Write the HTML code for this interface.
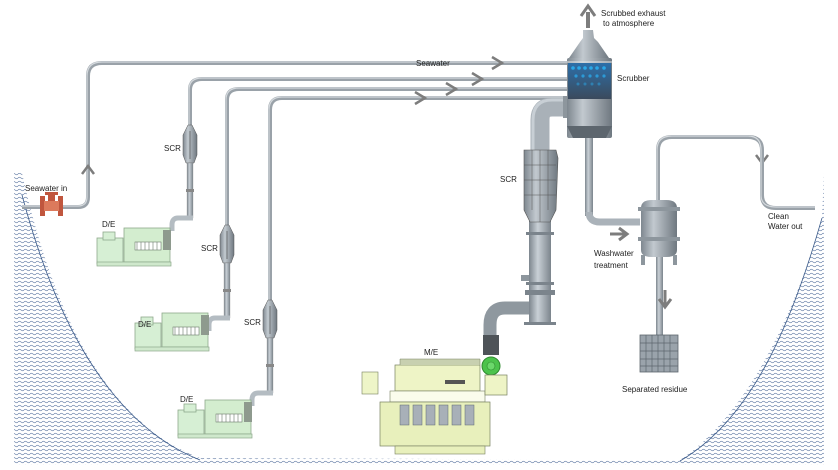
<!DOCTYPE html>
<html><head><meta charset="utf-8"><style>
html,body{margin:0;padding:0;background:#fff}
svg{display:block}
text{font-family:"Liberation Sans",sans-serif;font-size:8px;fill:#222}
</style></head><body>
<svg width="838" height="470" viewBox="0 0 838 470" xmlns="http://www.w3.org/2000/svg">
<defs>
<pattern id="wave" width="6" height="4" patternUnits="userSpaceOnUse">
<path d="M0 2 Q1.5 0.5 3 2 T6 2" fill="none" stroke="#6f86ac" stroke-width="0.7"/>
</pattern>
<linearGradient id="pipeV" x1="0" x2="1" y1="0" y2="0">
<stop offset="0" stop-color="#7d868e"/><stop offset="0.4" stop-color="#c9d0d6"/><stop offset="1" stop-color="#7b848c"/>
</linearGradient>
<linearGradient id="vessel" x1="0" x2="1">
<stop offset="0" stop-color="#7e878f"/><stop offset="0.35" stop-color="#c2c9cf"/><stop offset="1" stop-color="#6f7880"/>
</linearGradient>
<linearGradient id="blue" x1="0" x2="0" y1="0" y2="1">
<stop offset="0" stop-color="#2d6fa8"/><stop offset="1" stop-color="#3b4a5c"/>
</linearGradient>
<g id="de">
<rect x="0" y="10" width="26" height="26" fill="#d6efd4" stroke="#8ea98c" stroke-width="0.8"/>
<rect x="6" y="4" width="12" height="8" fill="#d6efd4" stroke="#8ea98c" stroke-width="0.8"/>
<rect x="27" y="0" width="46" height="34" fill="#d3edcf" stroke="#8ea98c" stroke-width="0.8"/>
<rect x="38" y="14" width="26" height="8" fill="#fff" stroke="#6a7a6a" stroke-width="0.6"/>
<path d="M40 14v8M44 14v8M48 14v8M52 14v8M56 14v8M60 14v8" stroke="#6a7a6a" stroke-width="0.6"/>
<rect x="66" y="2" width="8" height="20" fill="#8e9a8e"/>
<rect x="0" y="34" width="74" height="4" fill="#cfe8cc" stroke="#8ea98c" stroke-width="0.7"/>
</g>
<g id="scr">
<path d="M-2 0 L-7 10 L-7 30 L-4 38 L4 38 L7 30 L7 10 L2 0Z" fill="url(#vessel)" stroke="#555" stroke-width="0.5"/>
<line x1="0" y1="6" x2="0" y2="34" stroke="#444" stroke-width="0.6"/>
<rect x="-3" y="38" width="6" height="55" fill="url(#pipeV)" stroke="#888" stroke-width="0.3"/>
<rect x="-4" y="64" width="8" height="3" fill="#888"/>
<path d="M3 93 L-12 93 Q-18 93 -18 100 L-18 106" fill="none" stroke="#b4bcc2" stroke-width="5"/>
</g>
</defs>

<rect x="14" y="173" width="810" height="292" fill="url(#wave)"/>
<path d="M14 173 L22 173 C50 300 100 420 200 458 L680 460 C740 420 790 330 822 218 L824 173 Z" fill="#fff"/>
<path d="M22 195 C50 300 100 420 200 460" fill="none" stroke="#3a5a8a" stroke-width="0.8"/>
<path d="M822 218 C790 330 750 420 680 461" fill="none" stroke="#3a5a8a" stroke-width="0.8"/>

<g fill="none" stroke="#9aa2a9" stroke-width="4">
<path d="M22 207 L78 207 Q88 207 88 197 L88 76 Q88 63 102 63 L568 63"/>
<path d="M190 125 L190 90 Q190 79 202 79 L568 79"/>
<path d="M227 230 L227 100 Q227 89 239 89 L568 89"/>
<path d="M270 305 L270 110 Q270 98 282 98 L568 98"/>
</g>
<g fill="none" stroke="#d4d9dd" stroke-width="1.2">
<path d="M22 206 L78 206 Q87 206 87 197 L87 76 Q87 62 102 62 L568 62"/>
<path d="M189 125 L189 90 Q189 78 202 78 L568 78"/>
<path d="M226 230 L226 100 Q226 88 239 88 L568 88"/>
<path d="M269 305 L269 110 Q269 97 282 97 L568 97"/>
</g>
<g fill="none" stroke="#7d7d7d" stroke-width="2.5">
<path d="M82 174 L88 166 L94 174"/>
<path d="M492 57 L502 63 L492 69"/>
<path d="M472 73 L482 79 L472 85"/>
<path d="M446 83 L456 89 L446 95"/>
<path d="M415 92 L425 98 L415 104"/>
<path d="M756 155 L762 163 L768 155"/>
</g>
<rect x="40" y="196" width="5" height="20" fill="#c0563e"/>
<rect x="58" y="196" width="5" height="20" fill="#c0563e"/>
<rect x="44" y="201" width="15" height="10" fill="#dc7a5c"/>
<rect x="48" y="193" width="7" height="8" fill="#c0563e"/>
<rect x="45" y="192" width="13" height="3" fill="#c0563e"/>
<text x="25" y="191">Seawater in</text>

<use href="#scr" transform="translate(190,125)"/>
<use href="#scr" transform="translate(227,225)"/>
<use href="#scr" transform="translate(270,300)"/>
<use href="#de" transform="translate(97,228)"/>
<use href="#de" transform="translate(135,313)"/>
<use href="#de" transform="translate(178,400)"/>
<text x="164" y="151">SCR</text>
<text x="201" y="251">SCR</text>
<text x="244" y="325">SCR</text>
<text x="102" y="227">D/E</text>
<text x="138" y="327">D/E</text>
<text x="180" y="402">D/E</text>

<path d="M567 107 L552 107 Q540 107 540 120 L540 150" fill="none" stroke="#a9b1b8" stroke-width="19"/>
<path d="M567 100 L552 100 Q533 100 533 120 L533 150" fill="none" stroke="#c8cfd5" stroke-width="3"/>
<rect x="563" y="96" width="5" height="22" fill="#8d969d"/>
<rect x="529" y="150" width="22" height="175" fill="url(#pipeV)"/>
<path d="M524 150 L556 150 L558 158 L556 210 L550 222 L530 222 L524 210Z" fill="url(#vessel)" stroke="#555" stroke-width="0.6"/>
<path d="M524 165h32M524 180h32M524 195h32M540 150v72M532 150v60M548 150v60" stroke="#555" stroke-width="0.5" fill="none"/>
<rect x="526" y="232" width="28" height="3" fill="#7b848c"/>
<rect x="526" y="282" width="28" height="3" fill="#7b848c"/>
<rect x="525" y="290" width="30" height="5" fill="#7b848c"/>
<rect x="524" y="322" width="32" height="3" fill="#7b848c"/>
<rect x="521" y="275" width="8" height="6" fill="#8d969d"/>
<text x="500" y="182">SCR</text>
<path d="M529 308 L505 308 Q490 308 490 325 L490 350" fill="none" stroke="#8f989f" stroke-width="13"/>
<rect x="483" y="335" width="16" height="20" fill="#4e5358"/>
<circle cx="491" cy="366" r="9" fill="#4cc34c" stroke="#2f8a2f"/>
<circle cx="491" cy="366" r="4" fill="#6bd86b" stroke="#2f8a2f" stroke-width="0.6"/>

<text x="424" y="355">M/E</text>
<rect x="362" y="372" width="16" height="22" fill="#eef5c8" stroke="#778060" stroke-width="0.6"/>
<rect x="395" y="365" width="85" height="26" fill="#eef4c6" stroke="#778060" stroke-width="0.7"/>
<rect x="390" y="391" width="95" height="11" fill="#fafcec" stroke="#778060" stroke-width="0.6"/>
<rect x="380" y="402" width="110" height="44" fill="#e8f0bc" stroke="#778060" stroke-width="0.7"/>
<g fill="#a8b0b8" stroke="#5d6670" stroke-width="0.5">
<rect x="400" y="405" width="9" height="20"/><rect x="413" y="405" width="9" height="20"/><rect x="426" y="405" width="9" height="20"/><rect x="439" y="405" width="9" height="20"/><rect x="452" y="405" width="9" height="20"/><rect x="465" y="405" width="9" height="20"/>
</g>
<rect x="395" y="446" width="90" height="8" fill="#e8f0bc" stroke="#778060" stroke-width="0.6"/>
<rect x="485" y="375" width="22" height="20" fill="#eef4c6" stroke="#778060" stroke-width="0.7"/>
<rect x="445" y="380" width="20" height="4" fill="#555"/>
<path d="M400 365v-6h80v6" fill="#c8d0b0" stroke="#778060" stroke-width="0.5"/>

<rect x="585" y="138" width="8" height="78" fill="url(#pipeV)"/>
<path d="M589 212 Q589 222 600 222 L640 222" fill="none" stroke="#aab2b9" stroke-width="7"/>
<path d="M583 30 L593 30 L594 38 L598 42 L609 58 L569 58 L580 42 L583 38Z" fill="url(#vessel)"/>
<rect x="567" y="58" width="45" height="80" rx="2" fill="url(#vessel)"/>
<rect x="568" y="63" width="43" height="36" fill="url(#blue)"/>
<g fill="#2aa8e8">
<circle cx="573" cy="68" r="1.8"/><circle cx="579" cy="68" r="1.8"/><circle cx="585" cy="68" r="1.8"/><circle cx="591" cy="68" r="1.8"/><circle cx="597" cy="68" r="1.8"/><circle cx="604" cy="68" r="1.8"/>
<circle cx="576" cy="76" r="1.6" opacity=".8"/><circle cx="583" cy="76" r="1.6" opacity=".8"/><circle cx="590" cy="76" r="1.6" opacity=".8"/><circle cx="597" cy="76" r="1.6" opacity=".8"/><circle cx="604" cy="76" r="1.6" opacity=".8"/>
<circle cx="578" cy="84" r="1.5" opacity=".5"/><circle cx="585" cy="84" r="1.5" opacity=".5"/><circle cx="592" cy="84" r="1.5" opacity=".5"/><circle cx="599" cy="84" r="1.5" opacity=".5"/>
</g>
<line x1="567" y1="62" x2="612" y2="62" stroke="#dfe4e8" stroke-width="1"/>
<path d="M567 126 L612 126 L606 138 L573 138Z" fill="#5d666e"/>
<path d="M588 28 L588 12" stroke="#7d7d7d" stroke-width="4"/>
<path d="M581 16 L588 6 L595 16" fill="none" stroke="#7d7d7d" stroke-width="3"/>
<text x="601" y="16">Scrubbed exhaust</text>
<text x="603" y="26">to atmosphere</text>
<text x="617" y="81">Scrubber</text>

<path d="M658 202 L658 150 Q658 137 672 137 L748 137 Q762 137 762 150 L762 195 Q762 208 776 208 L815 208" fill="none" stroke="#9aa2a9" stroke-width="4"/>
<path d="M657 202 L657 150 Q657 136 672 136 L748 136 Q761 136 761 150 L761 195 Q761 207 776 207 L815 207" fill="none" stroke="#d4d9dd" stroke-width="1.2"/>
<rect x="656" y="255" width="7" height="82" fill="url(#pipeV)"/>
<path d="M641 208 Q641 200 652 200 L666 200 Q677 200 677 208 L677 250 Q677 257 666 257 L652 257 Q641 257 641 250Z" fill="url(#vessel)"/>
<rect x="638" y="207" width="42" height="4" fill="#8d969d"/>
<rect x="638" y="237" width="42" height="4" fill="#8d969d"/>
<rect x="641" y="255" width="4" height="10" fill="#8d969d"/><rect x="673" y="255" width="4" height="10" fill="#8d969d"/>
<path d="M610 234 L625 234 M619 228 L627 234 L619 240" fill="none" stroke="#7d7d7d" stroke-width="3"/>
<path d="M665 290 L665 305 M659 299 L665 307 L671 299" fill="none" stroke="#7d7d7d" stroke-width="3"/>
<text x="594" y="256">Washwater</text>
<text x="594" y="268">treatment</text>
<text x="768" y="219">Clean</text>
<text x="768" y="229">Water out</text>
<rect x="640" y="335" width="38" height="37" fill="#9aa3ab" stroke="#5d666e" stroke-width="0.8"/>
<path d="M640 343h38M640 351h38M640 359h38M640 366h38M646 335v37M652 335v37M658 335v37M664 335v37M670 335v37" stroke="#5d666e" stroke-width="0.7"/>
<text x="622" y="392">Separated residue</text>
<text x="416" y="66">Seawater</text>
</svg>
</body></html>
